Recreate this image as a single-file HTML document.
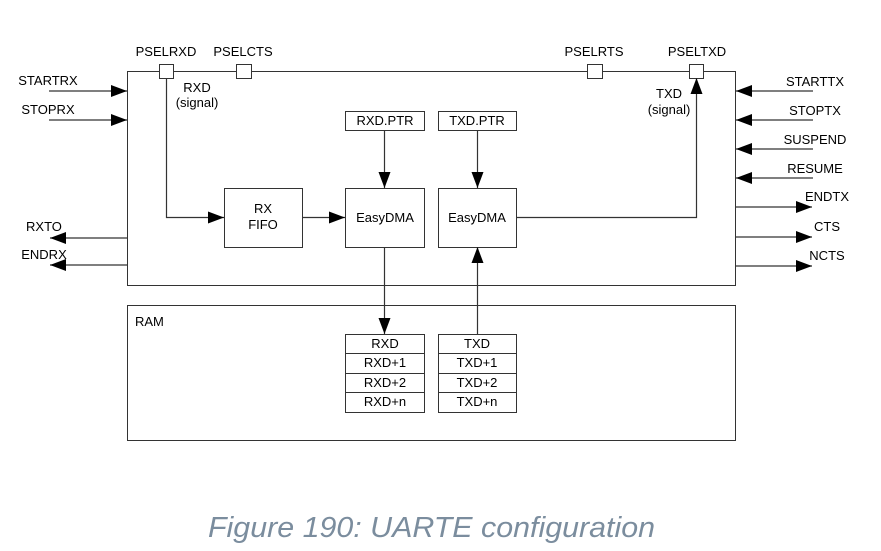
<!DOCTYPE html>
<html><head><meta charset="utf-8"><style>html,body{margin:0;padding:0;background:#fff}svg{display:block}</style></head><body>
<svg width="881" height="551" viewBox="0 0 881 551" xmlns="http://www.w3.org/2000/svg" font-family="Liberation Sans, sans-serif" font-size="13" fill="#000">
<defs><marker id="a" markerWidth="16" markerHeight="12" refX="16" refY="6" orient="auto" markerUnits="userSpaceOnUse"><path d="M0,0 L16,6 L0,12 z" fill="#000"/></marker></defs>
<g stroke="#333" stroke-width="1" fill="none">
<rect x="127.5" y="71.5" width="608" height="214"/>
<rect x="127.5" y="305.5" width="608" height="135"/>
</g>
<g fill="#fff" stroke="#333">
<rect x="159.5" y="64.5" width="14" height="14"/><rect x="236.5" y="64.5" width="15" height="14"/>
<rect x="587.5" y="64.5" width="15" height="14"/><rect x="689.5" y="64.5" width="14" height="14"/>
<rect x="224.5" y="188.5" width="78" height="59"/><rect x="345.5" y="188.5" width="79" height="59"/>
<rect x="438.5" y="188.5" width="78" height="59"/>
<rect x="345.5" y="111.5" width="79" height="19"/><rect x="438.5" y="111.5" width="78" height="19"/>
<rect x="345.5" y="334.5" width="79" height="78"/><rect x="438.5" y="334.5" width="78" height="78"/>
</g>
<g stroke="#333" stroke-width="1" fill="none">
<path d="M345 353.5h79M345 373.5h79M345 392.5h79M438 353.5h78M438 373.5h78M438 392.5h78"/>
</g>
<g stroke="#333" stroke-width="1.2" fill="none" marker-end="url(#a)">
<line x1="49" y1="91" x2="127" y2="91"/><line x1="49" y1="120" x2="127" y2="120"/>
<line x1="127" y1="238" x2="50" y2="238"/><line x1="127" y1="265" x2="50" y2="265"/>
<line x1="813" y1="91" x2="736" y2="91"/><line x1="813" y1="120" x2="736" y2="120"/>
<line x1="813" y1="149" x2="736" y2="149"/><line x1="813" y1="178" x2="736" y2="178"/>
<line x1="735" y1="207" x2="812" y2="207"/><line x1="735" y1="237" x2="812" y2="237"/>
<line x1="735" y1="266" x2="812" y2="266"/>
<polyline points="166.5,78 166.5,217.5 224,217.5"/>
<line x1="302" y1="217.5" x2="345" y2="217.5"/>
<line x1="384.5" y1="130" x2="384.5" y2="188"/><line x1="477.5" y1="130" x2="477.5" y2="188"/>
<polyline points="516,217.5 696.5,217.5 696.5,78"/>
<line x1="384.5" y1="247" x2="384.5" y2="334"/><line x1="477.5" y1="334" x2="477.5" y2="247"/>
</g>
<g text-anchor="middle">
<text x="166" y="56">PSELRXD</text><text x="243" y="56">PSELCTS</text>
<text x="594" y="56">PSELRTS</text><text x="697" y="56">PSELTXD</text>
<text x="197" y="92">RXD</text><text x="197" y="107">(signal)</text>
<text x="669" y="98">TXD</text><text x="669" y="114">(signal)</text>
<text x="263" y="213">RX</text><text x="263" y="229">FIFO</text>
<text x="385" y="222">EasyDMA</text><text x="477" y="222">EasyDMA</text>
<text x="385" y="125">RXD.PTR</text><text x="477" y="125">TXD.PTR</text>
<text x="385" y="348">RXD</text><text x="385" y="367">RXD+1</text><text x="385" y="387">RXD+2</text><text x="385" y="406">RXD+n</text>
<text x="477" y="348">TXD</text><text x="477" y="367">TXD+1</text><text x="477" y="387">TXD+2</text><text x="477" y="406">TXD+n</text>
<text x="48" y="85">STARTRX</text><text x="48" y="114">STOPRX</text>
<text x="44" y="231">RXTO</text><text x="44" y="259">ENDRX</text>
<text x="815" y="86">STARTTX</text><text x="815" y="115">STOPTX</text><text x="815" y="144">SUSPEND</text><text x="815" y="173">RESUME</text>
<text x="827" y="201">ENDTX</text><text x="827" y="231">CTS</text><text x="827" y="260">NCTS</text>
</g>
<text x="135" y="326">RAM</text>
<text x="208" y="537" font-size="29" font-style="italic" fill="#7b8d9e" textLength="447" lengthAdjust="spacingAndGlyphs">Figure 190: UARTE configuration</text>
</svg>
</body></html>
